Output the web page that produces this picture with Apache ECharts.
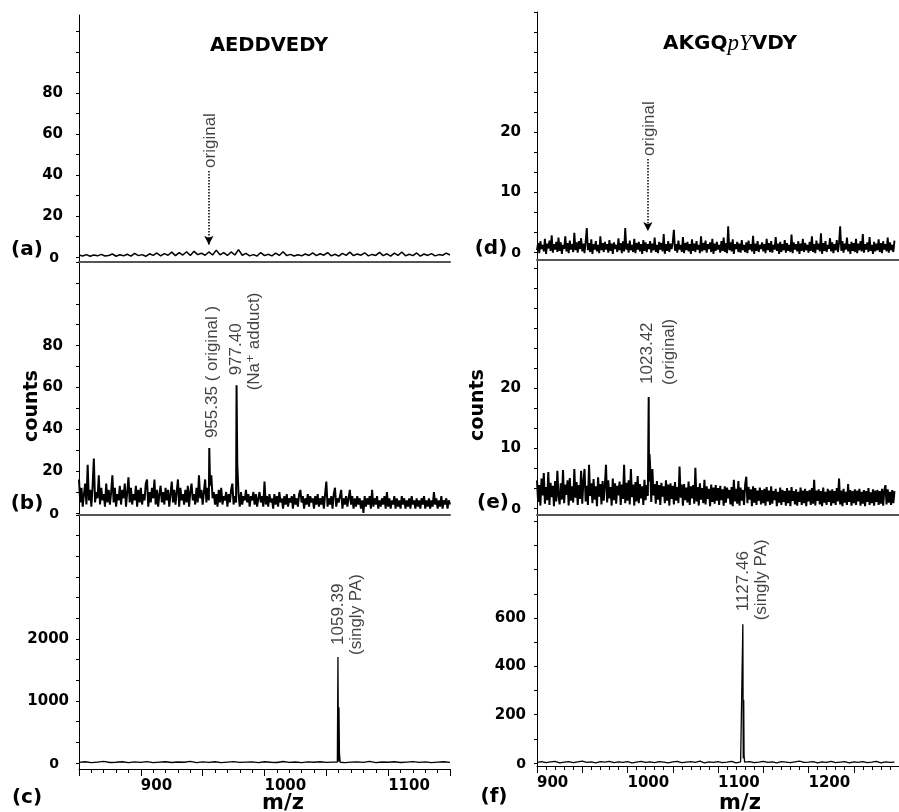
<!DOCTYPE html>
<html>
<head>
<meta charset="utf-8">
<script src="https://cdn.jsdelivr.net/npm/echarts@6/dist/echarts.min.js"></script>
<style>
html, body { margin: 0; padding: 0; background: #fff; }
#container { width: 899px; height: 812px; }
</style>
</head>
<body>
<div id="container"></div>
<script>
// spectra are stored as counts on a regular m/z grid (start, step), peaks as [m/z, counts]
var startLeft = 850, stepA = 3, stepB = 1, stepC = 5
var startRight = 900, stepD = 1.25, stepE = 1.25, stepF = 5

var noiseA = [1,0.5,1.2,0.4,1,0.6,1.3,0.5,0.8,1.5,0.4,1.1,0.6,1.4,0.5,1.8,0.7,1.2,0.4,1.6,
	0.8,2,0.6,1.7,0.9,2.4,0.7,2.2,1,2.6,0.8,2.8,1.2,1.9,0.9,2.5,1,3.4,1.1,2.2,
	0.8,2.5,1,3.6,0.9,1.8,0.6,1.2,0.5,2.2,0.7,1.4,0.6,1.9,0.8,2.6,0.7,1.3,0.5,1.1,
	0.6,1.5,0.8,2,0.7,1.6,0.9,2.2,0.6,1.4,0.5,1.8,0.8,2.4,0.7,1.5,0.9,2.1,0.6,1.3,
	0.8,2.3,0.7,1.6,0.5,1.9,0.8,2.5,0.6,1.4,0.7,2,0.5,1.5,0.8,1.7,0.6,1.2,0.9,1.9,1]
var noiseB = [16,5,12,3,9,14,4,23,6,11,3,13,26,5,10,7,18,4,12,6,9,3,14,5,11,
	4,10,18,5,12,3,9,6,13,4,11,7,14,3,10,17,5,12,4,9,6,13,3,11,5,
	12,4,9,6,14,16,3,10,5,12,7,16,4,11,3,9,13,5,10,4,12,6,11,3,9,
	15,5,11,4,10,16,3,12,6,9,4,11,5,13,3,10,14,6,9,4,12,5,18,7,11,
	4,10,16,5,12,6,13,18,7,10,4,9,3,11,5,12,4,8,6,10,3,9,5,11,14,
	4,8,5,23,9,3,10,4,8,6,11,5,9,3,8,6,10,4,9,3,7,10,5,8,3,
	15,4,8,3,9,5,7,2,9,4,8,3,10,5,7,2,8,4,9,3,7,5,8,2,9,
	4,7,3,9,11,5,8,2,7,4,9,3,8,5,7,2,8,4,9,3,7,4,8,2,9,
	15,3,7,4,8,2,9,12,3,7,5,8,11,2,7,4,8,3,7,11,4,8,2,7,3,
	8,4,7,2,6,0,8,3,7,4,8,2,11,3,7,4,8,2,6,3,7,4,8,2,10,
	3,7,2,6,4,8,2,7,3,6,2,8,4,7,2,6,3,7,2,8,4,6,2,7,3,
	6,2,7,4,8,2,6,3,7,2,6,3,10,4,7,2,6,3,8,2,6,4,7,2,6,
	4]
var noiseC = [10,20,5,15,25,8,12,20,6,18,10,22,5,14,20,8,16,12,25,6,
	18,10,20,7,15,22,9,14,19,6,20,12,8,24,10,16,5,18,12,20,
	9,15,22,7,14,18,10,25,6,16,12,20,8,15,22,10,18,6,14,20,10]
var noiseD = [0.3,1.5,-0.2,1.8,0.5,1.2,0.1,2.2,-0.3,1.4,0.6,1.9,0.2,2.8,-0.1,1.3,0.4,1.7,0.0,2.4,
	0.2,1.6,-0.3,1.2,0.5,2.6,0.1,1.5,-0.2,1.9,0.4,1.3,0.0,3.2,0.3,1.6,-0.1,1.8,0.5,2.3,
	0.1,1.4,-0.2,1.7,4.0,0.3,1.5,0.0,2.1,-0.3,1.3,0.4,1.8,0.1,1.2,-0.2,2.6,0.3,1.5,0.0,
	1.7,0.4,1.3,-0.1,2.0,0.2,1.4,-0.3,1.6,0.5,1.2,0.0,2.3,0.3,1.5,-0.2,1.8,0.1,4.0,0.4,
	1.4,-0.1,1.9,0.3,1.2,0.0,2.2,-0.2,1.5,0.4,1.7,0.1,1.3,-0.3,2.0,0.2,1.6,0.0,1.3,0.5,
	1.8,-0.1,1.4,0.3,2.4,0.0,1.2,-0.2,1.7,0.4,1.5,0.1,3.0,-0.3,1.3,0.2,1.8,0.0,1.4,0.5,
	1.6,3.7,0.2,1.3,-0.1,1.9,0.4,1.2,0.0,2.5,-0.2,1.5,0.3,1.7,0.1,1.3,-0.3,2.1,0.2,1.4,
	0.0,1.8,0.4,1.2,-0.2,2.6,0.1,1.5,0.3,1.9,-0.1,1.3,0.5,1.6,0.0,2.2,-0.3,1.4,0.2,1.7,
	0.4,1.2,-0.1,1.8,0.2,2.4,0.0,1.5,-0.2,4.3,0.3,1.6,0.1,2.1,-0.3,1.3,0.5,1.7,0.0,1.4,
	-0.1,2.0,0.3,1.2,0.0,1.6,-0.2,1.9,0.4,1.3,0.1,2.7,-0.3,1.4,0.2,1.8,0.0,1.2,0.5,1.6,
	0.1,1.3,-0.2,2.2,0.3,1.5,0.0,1.8,-0.1,1.2,0.4,2.5,0.2,1.4,-0.3,1.7,0.0,1.3,0.3,2.0,
	-0.1,1.5,0.2,1.2,0.0,2.9,-0.2,1.6,0.4,1.3,0.1,1.8,-0.3,1.4,0.2,2.2,0.0,1.5,0.3,1.2,
	-0.1,1.7,0.2,2.6,0.0,1.3,-0.2,1.9,0.4,1.4,0.1,3.1,-0.3,1.5,0.2,1.8,0.0,1.2,0.5,2.3,
	0.1,1.6,-0.2,1.3,0.3,2.0,0.0,1.5,4.3,0.2,1.8,-0.1,1.4,0.4,2.4,0.1,1.3,-0.3,1.7,0.2,
	1.5,0.0,2.2,-0.2,1.4,0.3,1.8,0.1,3.0,-0.1,1.3,0.4,1.6,0.0,2.5,0.2,1.2,-0.3,1.7,0.1,
	1.4,0.3,2.1,0.0,1.5,-0.2,1.8,0.4,1.3,0.1,2.4,-0.1,1.6,0.3,1.2,0.0,1.9]
var noiseE = [4.6,1.0,3.8,0.4,4.9,2.1,5.8,0.7,3.5,1.3,6.0,0.5,4.2,1.8,3.7,0.3,4.5,1.1,6.2,2.0,
	0.6,4.1,1.4,6.3,0.8,3.9,2.2,4.6,0.4,5.0,1.2,3.6,0.9,6.5,1.7,4.3,0.5,3.8,1.5,6.2,
	0.7,4.4,6.5,1.1,3.7,0.5,7.2,2.0,4.1,0.8,4.8,1.4,3.6,0.3,5.1,1.9,4.0,0.6,4.5,1.2,
	3.8,7.2,0.9,4.6,1.6,3.5,0.4,4.9,1.3,4.1,0.7,3.7,2.1,4.4,0.5,3.9,1.5,7.2,0.8,4.2,
	1.2,4.6,0.6,6.5,1.8,3.9,0.4,4.3,1.1,5.3,0.8,4.0,1.6,3.6,0.5,4.7,1.3,3.8,2.0,4.4,
	7.0,1.0,6.5,2.1,4.0,0.7,4.5,1.4,3.8,0.5,4.2,1.9,3.6,0.8,4.6,1.2,3.9,0.4,4.1,1.5,
	3.7,0.6,4.3,1.2,3.5,0.8,6.9,1.7,3.9,0.4,4.0,1.3,3.4,0.9,4.4,0.5,3.6,1.6,3.8,0.7,
	6.7,1.1,3.5,0.4,4.1,1.4,3.3,0.8,4.7,0.6,3.6,1.5,3.2,0.3,3.9,1.0,3.4,0.7,3.8,1.2,
	3.3,0.5,3.7,1.3,3.1,0.4,3.6,0.9,3.4,1.6,3.0,0.6,3.5,0.3,4.7,1.1,3.2,0.7,4.5,0.4,
	3.4,1.2,3.0,0.5,3.9,5.2,0.8,3.5,1.4,3.1,0.3,3.6,0.9,3.3,0.5,2.9,1.2,3.4,0.6,3.0,
	0.8,3.2,0.4,3.5,1.1,2.9,0.5,3.6,0.7,2.8,1.3,3.2,0.3,2.7,0.9,3.4,0.5,3.0,1.0,2.8,
	0.4,3.3,0.8,2.9,0.3,3.5,1.2,2.8,0.6,3.1,0.4,2.7,1.0,3.4,0.5,2.9,0.8,3.2,0.3,2.8,
	1.1,3.0,0.5,3.3,0.7,4.7,0.4,2.9,1.2,3.1,0.6,2.8,0.3,3.4,0.9,2.7,0.5,3.2,1.0,2.9,
	0.4,3.1,0.8,2.8,0.5,3.3,1.1,4.9,0.6,2.9,0.3,3.2,0.9,2.7,0.5,4.0,1.0,3.0,0.4,2.8,
	0.8,3.1,0.5,2.9,1.1,3.2,0.4,2.7,0.7,3.0,0.3,2.8,1.0,3.3,0.5,2.6,0.8,3.1,0.4,2.9,
	1.0,3.0,0.5,2.8,0.7,3.2,0.4,2.9,3.8,0.6,3.1,0.9,2.7,0.5,3.0,0.8,2.8]
var noiseF = [3,6,2,5,7,1,4,6,2,5,8,3,5,1,6,4,7,2,5,3,
	6,1,4,7,3,5,2,6,4,1,5,7,2,4,6,3,8,1,5,3,
	6,2,4,7,1,5,3,6,2,4,7,3,5,1,6,4,2,5,8,3,
	4,6,1,5,3,7,2,4,6,1,5,3,6,2,4,7,1,5,3,4]

var peaksB = [[955.35, 31], [977.40, 61]]
var peaksC = [[1058.9, 15], [1059.39, 1710], [1059.8, 60], [1060.2, 900], [1060.6, 160], [1061.2, 12]]
var peaksE = [[1023.42, 18.5], [1024.3, 9]]
var peaksF = [[1127.0, 4], [1127.46, 574], [1127.9, 20], [1128.4, 262], [1128.8, 32], [1129.4, 4]]

// dotted "original" arrows: [m/z, from, to]
var arrowA = [955, 42, 6]
var arrowD = [1022.5, 15.5, 3.5]

// peak tags: [text, m/z, counts]
var tagsA = [['original', 955, 42]]
var tagsB = [['955.35 ( original )', 955.35, 31], ['977.40', 977.40, 61], ['(Na\u207A adduct)', 977.40, 61]]
var tagsC = [['1059.39', 1059.39, 1710], ['(singly PA)', 1059.39, 1710]]
var tagsD = [['original', 1022.5, 15.5]]
var tagsE = [['1023.42', 1023.42, 18.5], ['(original)', 1023.42, 18.5]]
var tagsF = [['1127.46', 1127.46, 574], ['(singly PA)', 1127.46, 574]]

var xLabelsLeft = [900, 1000, 1100]
var xLabelsRight = [900, 1000, 1100, 1200]
var yLabelsA = [0, 20, 40, 60, 80]
var yTicksA = [0, 10, 20, 30, 40, 50, 60, 70, 80, 90, 100, 110]
var yLabelsB = [0, 20, 40, 60, 80]
var yTicksB = [0, 10, 20, 30, 40, 50, 60, 70, 80, 90, 100, 110, 120]
var yLabelsC = [0, 1000, 2000]
var yTicksC = [0, 333.3, 666.7, 1000, 1333.3, 1666.7, 2000, 2333.3, 2666.7, 3000, 3333.3, 3666.7, 4000]
var yLabelsD = [0, 10, 20]
var yTicksD = [0, 3.33, 6.67, 10, 13.33, 16.67, 20, 23.33, 26.67, 30, 33.33, 36.67, 40]
var yLabelsE = [0, 10, 20]
var yTicksE = [0, 3.33, 6.67, 10, 13.33, 16.67, 20, 23.33, 26.67, 30, 33.33, 36.67, 40]
var yLabelsF = [0, 200, 400, 600]
var yTicksF = [0, 100, 200, 300, 400, 500, 600, 700, 800, 900, 1000]

var axisFont = 'DejaVu Sans'
var tagFont = 'Liberation Sans, DejaVu Sans'

function spectrum(start, step, noise, peaks) {
	var pts = noise.map(function (v, i) { return [start + i * step, v] })
	return pts.concat(peaks || []).sort(function (p, q) { return p[0] - q[0] })
}

// rotated text above peaks; shift = [px to the right, px above anchor]
// (label offset is taken in the rotated frame, hence the swap)
function tagItems(tags, shifts) {
	return tags.map(function (t, i) {
		return {
			value: [t[1], t[2]],
			label: { formatter: t[0], offset: [shifts[i][1], shifts[i][0]] }
		}
	})
}

var panels = [
	{ grid: { left: 79, top: 15, width: 371, height: 247 }, x: [850, 1150], y: [-2.4, 118], bottom: false,
		data: spectrum(startLeft, stepA, noiseA), ticks: yTicksA, labels: yLabelsA, lm: 16, zpad: 4, lw: 1.5,
		arrow: arrowA, tags: tagItems(tagsA, [[1, 3]]) },
	{ grid: { left: 79, top: 262, width: 371, height: 253 }, x: [850, 1150], y: [-1, 120], bottom: false,
		data: spectrum(startLeft, stepB, noiseB, peaksB), ticks: yTicksB, labels: yLabelsB, lm: 16, zpad: 4, lw: 2,
		tags: tagItems(tagsB, [[3, 10], [0, 10], [18, -5]]) },
	{ grid: { left: 79, top: 515, width: 371, height: 254 }, x: [850, 1150], y: [-97, 4000], bottom: true,
		data: spectrum(startLeft, stepC, noiseC, peaksC), ticks: yTicksC, labels: yLabelsC, lm: 10, zpad: 10, lw: 1.3,
		xl: xLabelsLeft, tags: tagItems(tagsC, [[0, 12], [18, 2]]) },
	{ grid: { left: 537, top: 12, width: 368, height: 248 }, x: [900, 1300], y: [-1.33, 40], bottom: false,
		data: spectrum(startRight, stepD, noiseD), ticks: yTicksD, labels: yLabelsD, lm: 16, zpad: 0, lw: 1.9,
		arrow: arrowD, tags: tagItems(tagsD, [[1, 3]]) },
	{ grid: { left: 537, top: 260, width: 368, height: 255 }, x: [900, 1300], y: [-1.17, 41.3], bottom: false,
		data: spectrum(startRight, stepE, noiseE, peaksE), ticks: yTicksE, labels: yLabelsE, lm: 16, zpad: 0, lw: 2,
		tags: tagItems(tagsE, [[-1, 13], [21, 12]]) },
	{ grid: { left: 537, top: 515, width: 368, height: 251 }, x: [900, 1300], y: [-12, 1026], bottom: true,
		data: spectrum(startRight, stepF, noiseF, peaksF), ticks: yTicksF, labels: yLabelsF, lm: 11, zpad: 0, lw: 1.3,
		xl: xLabelsRight, tags: tagItems(tagsF, [[0, 13], [18, 4]]) }
]

var grids = [], xAxes = [], yAxes = [], series = []
panels.forEach(function (p, i) {
	grids.push(p.grid)
	var xa = {
		type: 'value', gridIndex: i, min: p.x[0], max: p.x[1],
		splitLine: { show: false },
		axisLine: { show: true, onZero: false, lineStyle: { color: '#555', width: 2 } },
		axisTick: { show: false }, axisLabel: { show: false }
	}
	if (p.bottom) {
		xa.interval = 50
		xa.axisLine = { show: true, onZero: false, lineStyle: { color: '#000', width: 1 } }
		xa.axisTick = { show: true, length: 7, lineStyle: { color: '#000' } }
		xa.minorTick = { show: true, splitNumber: 5, length: 4, lineStyle: { color: '#000' } }
		xa.axisLabel = { show: true, customValues: p.xl, align: 'left', margin: 10,
			formatter: function (v) { return String(v) },
			fontFamily: axisFont, fontWeight: 'bold', fontSize: 15, color: '#000' }
	}
	xAxes.push(xa)
	yAxes.push({
		type: 'value', gridIndex: i, min: p.y[0], max: p.y[1],
		splitLine: { show: false },
		axisLine: { show: true, onZero: false, lineStyle: { color: '#000', width: 1 } },
		axisTick: { show: true, customValues: p.ticks, length: 3, lineStyle: { color: '#000' } },
		axisLabel: { show: true, customValues: p.labels, margin: p.lm,
			formatter: function (v) { return v === 0 ? '{z|0}' : String(v) },
			rich: { z: { padding: [2, p.zpad, 0, 0], fontFamily: axisFont, fontWeight: 'bold', fontSize: 14, color: '#000' } },
			fontFamily: axisFont, fontWeight: 'bold', fontSize: 15, color: '#000' }
	})
	var line = {
		type: 'line', xAxisIndex: i, yAxisIndex: i, data: p.data,
		symbol: 'none', silent: true, z: 3,
		lineStyle: { color: '#000', width: p.lw }
	}
	if (p.arrow) {
		line.markLine = {
			silent: true, symbol: ['none', 'arrow'], symbolSize: [7, 9],
			label: { show: false },
			lineStyle: { type: 'dotted', color: '#000', width: 1.5 },
			data: [[{ coord: [p.arrow[0], p.arrow[1]] }, { coord: [p.arrow[0], p.arrow[2]] }]]
		}
	}
	series.push(line)
	series.push({
		type: 'scatter', xAxisIndex: i, yAxisIndex: i, data: p.tags,
		symbolSize: 1, itemStyle: { color: 'transparent' }, silent: true, z: 5,
		label: { show: true, position: 'inside', rotate: 90, align: 'left', verticalAlign: 'middle',
			fontFamily: tagFont, fontSize: 17, color: '#111' }
	})
})

function txt(x, y, s, size, rot) {
	return { type: 'text', x: x, y: y, rotation: rot || 0, silent: true,
		style: { text: s, align: 'center', verticalAlign: 'middle',
			fontFamily: axisFont, fontWeight: 'bold', fontSize: size, fill: '#000' } }
}

var graphics = [
	txt(269, 46, 'AEDDVEDY', 19.5),
	{ type: 'text', x: 730, y: 44, silent: true,
		style: { text: '{b|AKGQ}{i|pY}{b|VDY}', align: 'center', verticalAlign: 'middle',
			rich: {
				b: { fontFamily: axisFont, fontWeight: 'bold', fontSize: 20, fill: '#000' },
				i: { fontFamily: 'Liberation Serif', fontStyle: 'italic', fontSize: 23, fill: '#000' }
			} } },
	txt(27, 250, '(a)', 20), txt(27, 504, '(b)', 20), txt(27, 798, '(c)', 20),
	txt(491, 249, '(d)', 20), txt(493, 503, '(e)', 20), txt(494, 797, '(f)', 20),
	txt(32, 406, 'counts', 19, Math.PI / 2), txt(478, 405, 'counts', 19, Math.PI / 2),
	txt(283, 804, 'm/z', 21), txt(740, 804, 'm/z', 21)
]

var myChart = echarts.init(document.getElementById('container'))
myChart.setOption({
	animation: false,
	backgroundColor: '#fff',
	grid: grids,
	xAxis: xAxes,
	yAxis: yAxes,
	series: series,
	graphic: graphics
})
</script>
</body>
</html>
